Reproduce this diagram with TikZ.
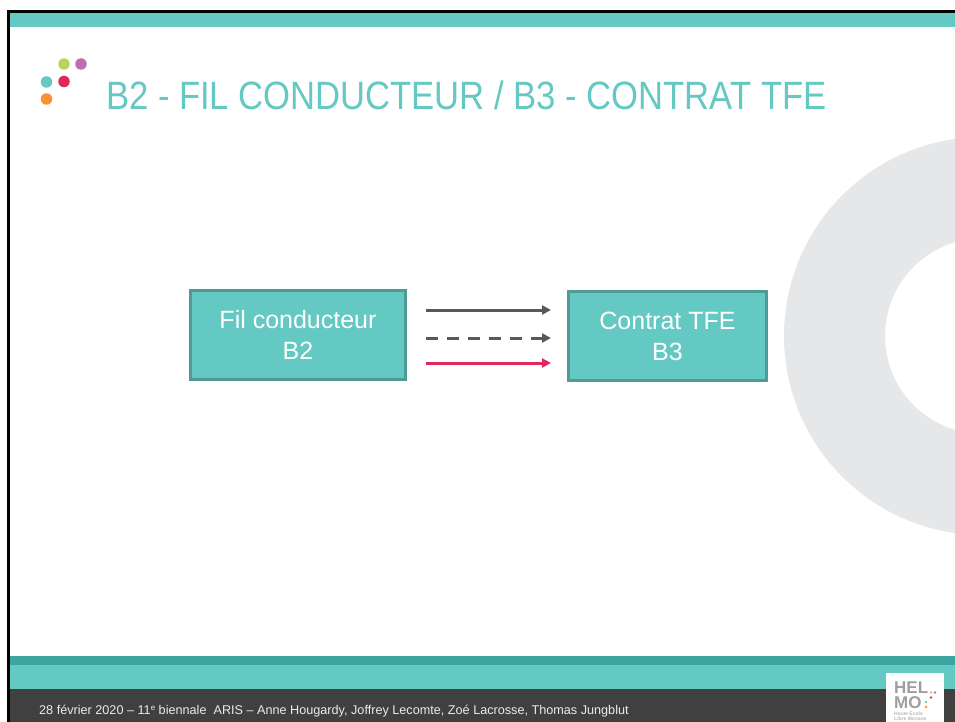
\documentclass[tikz,border=0pt]{standalone}
\usepackage{fontspec}
\setmainfont{Liberation Sans}
\usetikzlibrary{arrows.meta}
\definecolor{teal1}{HTML}{64C8C3}
\definecolor{teal2}{HTML}{3DA5A0}
\definecolor{boxedge}{HTML}{4E9A96}
\definecolor{darkbar}{HTML}{404040}
\definecolor{ringgray}{HTML}{E6E7E9}
\definecolor{arrowgray}{HTML}{595959}
\definecolor{red1}{HTML}{E0285A}
\definecolor{dotgreen}{HTML}{B8D45A}
\definecolor{dotviolet}{HTML}{BE6EAE}
\definecolor{dotorange}{HTML}{F89232}
\tikzset{
  box/.style={draw=boxedge,line width=3pt,fill=teal1,text=white,align=center,font=\fontsize{25}{31}\selectfont,inner sep=0pt},
  link/.style={line width=3pt,arrowgray,-{Triangle[length=9pt,width=9pt]}},
  dot/.style={circle,inner sep=0pt,minimum size=11.5pt},
  logotext/.style={anchor=west,text=gray!75,font=\bfseries\fontsize{17}{13}\selectfont,inner sep=0pt},
}
\begin{document}
\begin{tikzpicture}[x=1pt,y=-1pt]
\useasboundingbox (0,0) rectangle (955,722);
\fill[white] (0,0) rectangle (955,722);
% ring
\begin{scope}
\clip (0,0) rectangle (955,722);
\fill[ringgray,even odd rule] (983,336) circle[radius=199] (983,336) circle[radius=98];
\end{scope}
% frame
\fill[teal1] (10,13) rectangle (955,27);
\fill[black] (7,10) rectangle (955,13);
\fill[black] (7,10) rectangle (10,722);
% footer
\fill[teal2] (10,656) rectangle (955,665);
\fill[teal1] (10,665) rectangle (955,689);
\fill[darkbar] (10,689) rectangle (955,722);
\node[anchor=west,text=white!92!black,font=\fontsize{12.65}{14}\selectfont,inner sep=0pt] (foot) at (39,711) {28 février 2020 – 11\raisebox{4pt}{\fontsize{8}{8}\selectfont e} biennale\ \ ARIS – Anne Hougardy, Joffrey Lecomte, Zoé Lacrosse, Thomas Jungblut};
% logo
\fill[white] (886,673) rectangle (944,722);
\node[logotext] (hel) at (894,687.5) {HEL};
\node[logotext] (mo) at (894,703) {MO};
\node[anchor=west,text=gray!55,font=\bfseries\fontsize{5}{5.5}\selectfont,inner sep=0pt,align=left] (sub) at (894,716) {Haute École\\Libre Mosane};
\fill[teal1] (926,702) circle[radius=1.4];
\fill[red1!70!gray] (931,697.5) circle[radius=1.4];
\fill[dotorange] (926,707) circle[radius=1.4];
\fill[dotviolet] (935,692.5) circle[radius=1.4];
\fill[dotgreen] (931,692.5) circle[radius=1.4];
% title dots
\node[dot,fill=teal1] (d1) at (46.5,82) {};
\node[dot,fill=red1] (d2) at (64,81.5) {};
\node[dot,fill=dotorange] (d3) at (46.5,99) {};
\node[dot,fill=dotgreen] (d4) at (64,64) {};
\node[dot,fill=dotviolet] (d5) at (81,64) {};
% title
\node[anchor=base west,text=teal1,font=\fontsize{39.5}{40}\selectfont,inner sep=0pt,xscale=0.876,transform shape] (title) at (106,110) {B2 - FIL CONDUCTEUR / B3 - CONTRAT TFE};
% boxes
\node[box,minimum width=215pt,minimum height=89pt] (b2) at (298,335) {Fil conducteur\\B2};
\node[box,minimum width=198pt,minimum height=89pt] (b3) at (667.5,336) {Contrat TFE\\B3};
% arrows
\coordinate (a1s) at (426,310); \coordinate (a1e) at (551,310);
\coordinate (a2s) at (426,338); \coordinate (a2e) at (551,338);
\coordinate (a3s) at (426,363); \coordinate (a3e) at (551,363);
\draw[link] (a1s) -- (a1e);
\draw[link,dash pattern=on 12pt off 9pt] (a2s) -- (a2e);
\draw[link,red1] (a3s) -- (a3e);
\end{tikzpicture}
\end{document}
